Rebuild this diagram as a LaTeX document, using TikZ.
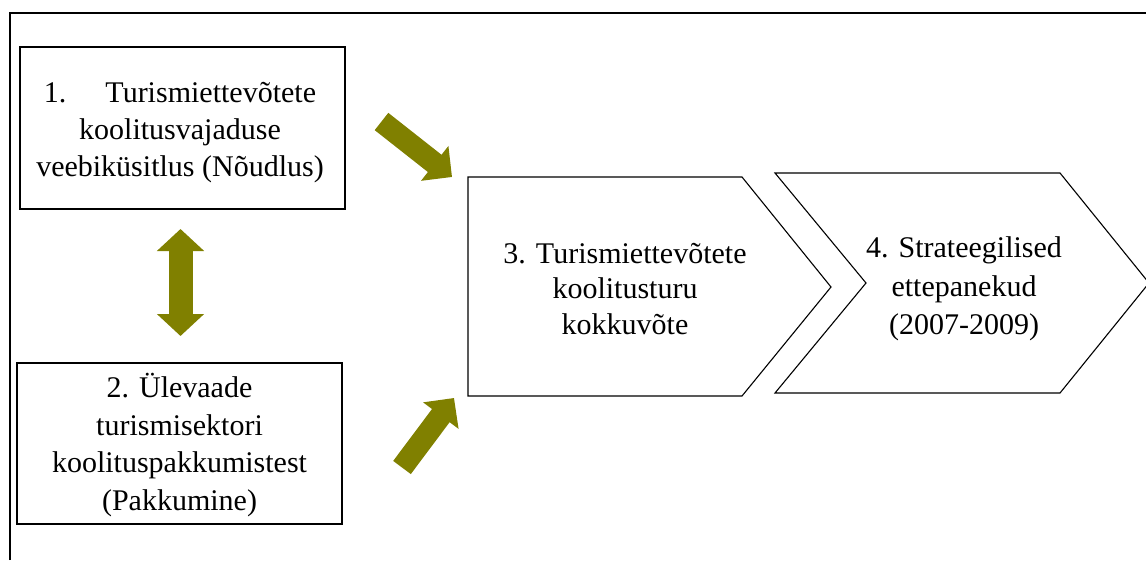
\documentclass[tikz,border=0pt]{standalone}
\usepackage{fontspec}
\setmainfont{Liberation Serif}
\usetikzlibrary{arrows.meta}
\definecolor{arrowolive}{HTML}{808000}
\tikzset{
  stagefont/.style={font=\fontsize{30}{37}\selectfont},
  stagebox/.style={draw, line width=1.4pt, minimum width=325pt, minimum height=162pt},
  stagetext/.style={align=center, stagefont},
  chevron/.style={draw, line width=1.1pt, line join=miter},
  fatarrow/.style={draw=arrowolive, line width=22pt, -{Triangle[width=43pt,length=22pt]}},
  fatdouble/.style={draw=arrowolive, line width=24pt,
    {Triangle[width=46pt,length=22pt]}-{Triangle[width=46pt,length=22pt]}},
}
\begin{document}
\begin{tikzpicture}[x=1pt,y=-1pt]
  \useasboundingbox (0,0) rectangle (1146,560);
  \clip (0,0) rectangle (1146,560);

  % outer frame
  \draw[line width=1.6pt] (10,560) -- (10,13) -- (1146,13);

  % left boxes
  \node[stagebox] (demand) at (182.5,128) {};
  \node[stagetext] (demandtext) at (180,133)
    {1.\hspace{1.3em}Turismiettevõtete\\koolitusvajaduse\\veebiküsitlus (Nõudlus)};
  \node[stagebox, minimum height=161pt] (supply) at (179.5,443.5) {};
  \node[stagetext, font=\fontsize{30}{37.7}\selectfont] (supplytext) at (179.5,445)
    {2. Ülevaade\\turismisektori\\koolituspakkumistest\\(Pakkumine)};

  % chevrons
  \draw[chevron] (468,177) -- (742,177) -- (831,287) -- (742,396) -- (468,396) -- cycle;
  \node[stagetext, font=\fontsize{30}{35.5}\selectfont] (summary) at (625,289)
    {3. Turismiettevõtete\\koolitusturu\\kokkuvõte};
  \draw[chevron] (775,173) -- (1060,173) -- (1149,283) -- (1060,393) -- (775,393)
    -- (866,283) -- cycle;
  \node[stagetext, font=\fontsize{30}{38.5}\selectfont] (strategy) at (964,289)
    {4. Strateegilised\\ettepanekud\\(2007-2009)};

  % block arrows
  \coordinate (demandout) at (381.5,121.5);
  \coordinate (summaryin1) at (452,177);
  \coordinate (supplyout) at (402,467.5);
  \coordinate (summaryin2) at (454,398);
  \coordinate (linktop) at (180.5,229);
  \coordinate (linkbot) at (180.5,336);
  \draw[fatarrow] (demandout) -- (summaryin1);
  \draw[fatarrow] (supplyout) -- (summaryin2);
  \draw[fatdouble] (linktop) -- (linkbot);
\end{tikzpicture}
\end{document}
